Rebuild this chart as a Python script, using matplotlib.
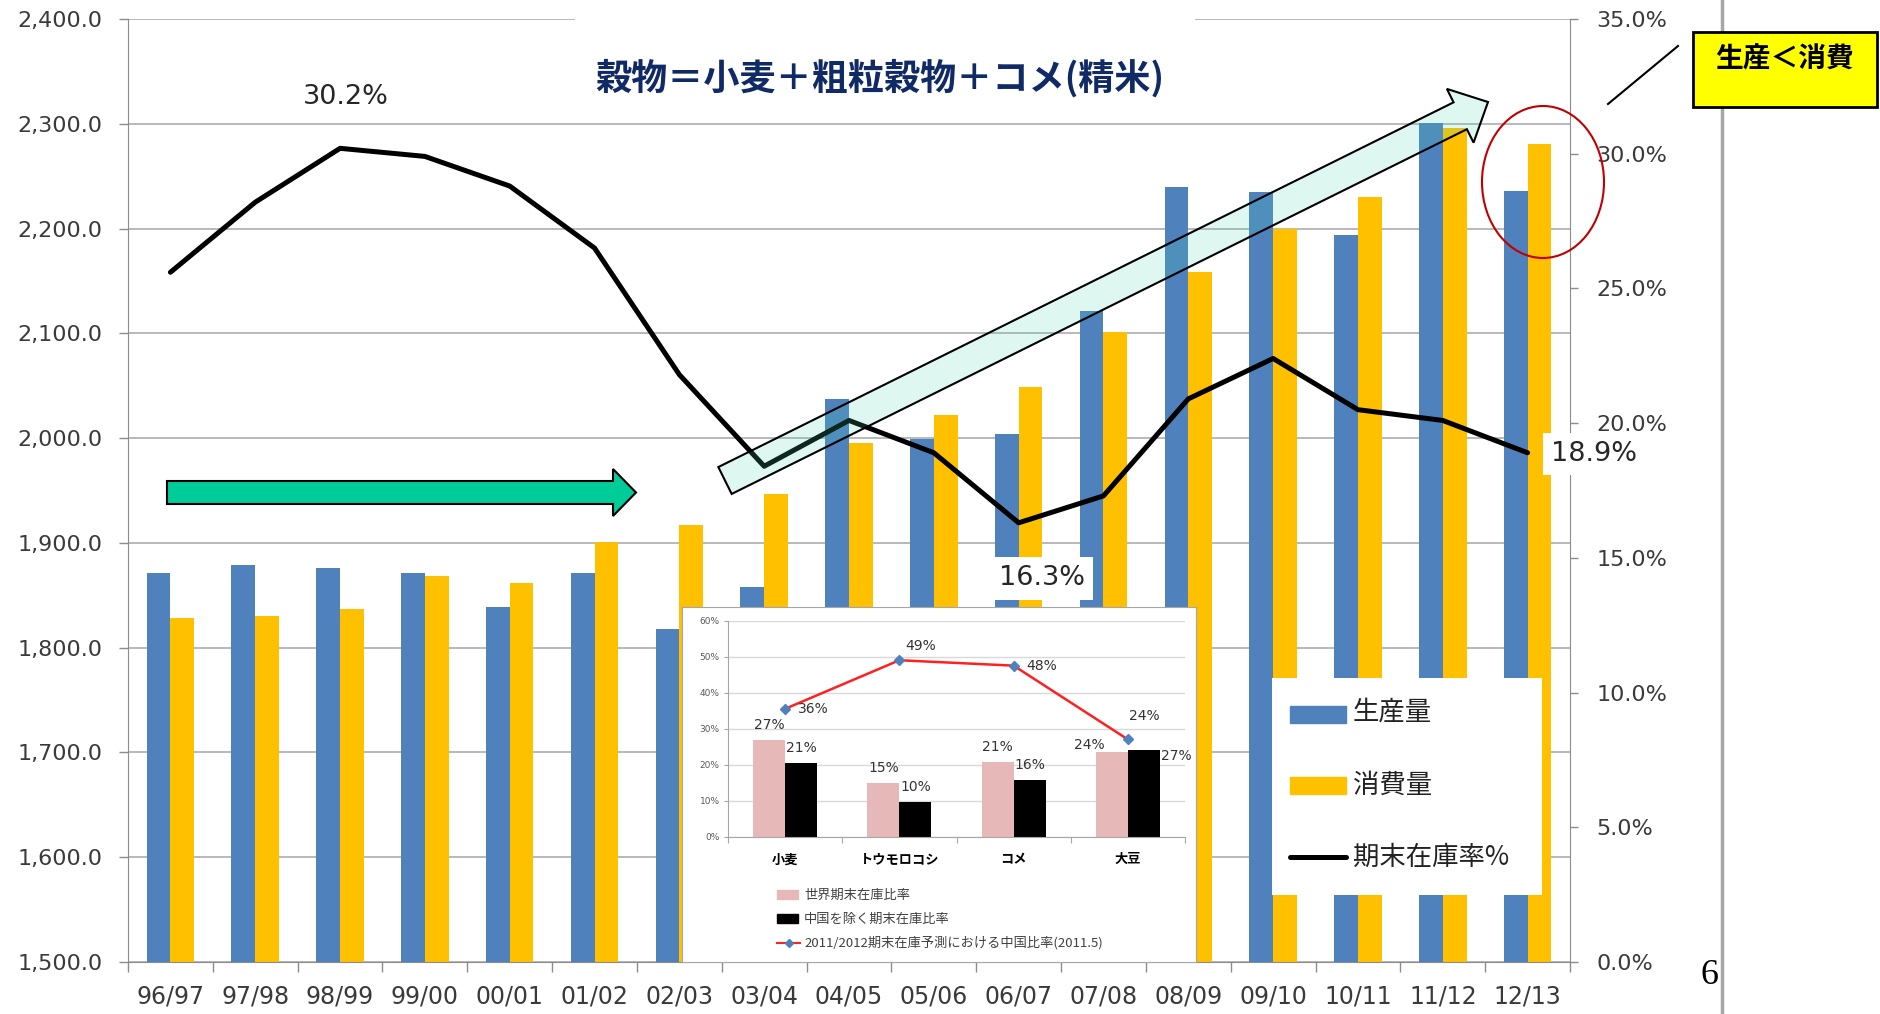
import matplotlib
matplotlib.use('Agg')
import numpy as np
import matplotlib.pyplot as plt
from matplotlib.patches import Rectangle, Polygon, Ellipse
from matplotlib.lines import Line2D
from matplotlib.ticker import FuncFormatter

plt.rcParams['font.family'] = ['DejaVu Sans', 'Noto Sans CJK JP']
JP = ['Noto Sans CJK JP', 'DejaVu Sans']

# 世界の穀物需給（百万トン）と期末在庫率
years = ['96/97', '97/98', '98/99', '99/00', '00/01', '01/02', '02/03', '03/04', '04/05',
         '05/06', '06/07', '07/08', '08/09', '09/10', '10/11', '11/12', '12/13']
production = [1871, 1879, 1876, 1871, 1839, 1871, 1818, 1858, 2037,
              1999, 2004, 2121, 2240, 2235, 2194, 2301, 2236]
consumption = [1828, 1830, 1837, 1868, 1862, 1901, 1917, 1947, 1995,
               2022, 2049, 2101, 2159, 2200, 2230, 2296, 2281]
stock_ratio = [25.6, 28.2, 30.2, 29.9, 28.8, 26.5, 21.8, 18.4, 20.1,
               18.9, 16.3, 17.3, 20.9, 22.4, 20.5, 20.1, 18.9]
series_names = ['生産量', '消費量', '期末在庫率%']

# 期末在庫比率（小さい図）
crops = ['小麦', 'トウモロコシ', 'コメ', '大豆']
world_ratio = [26.9, 15.0, 20.7, 23.6]
excl_china = [20.6, 9.6, 15.8, 24.3]
china_share = [35.6, 49.1, 47.6, 27.1]
inset_names = ['世界期末在庫比率', '中国を除く期末在庫比率',
               '2011/2012期末在庫予測における中国比率(2011.5)']

BLUE = '#4F81BD'
ORANGE = '#FFC000'
GREY = '#8C8C8C'
TXT = '#3A3A3A'

W, H = 1880, 1014
fig = plt.figure(figsize=(W / 100, H / 100), dpi=100)


def fx(x):
    return x / W


def fy(y):
    return 1 - y / H


def box(x0, y0, x1, y1):
    return [fx(x0), fy(y1), fx(x1) - fx(x0), fy(y0) - fy(y1)]


# ---- main chart ----
ax = fig.add_axes(box(128, 19, 1570, 962))
x = np.arange(len(years))
bw = 0.28
ax.bar(x - bw / 2, production, bw, color=BLUE, zorder=2)
ax.bar(x + bw / 2, consumption, bw, color=ORANGE, zorder=2)
ax.set_xlim(-0.5, len(years) - 0.5)
ax.set_ylim(1500, 2400)
ax.set_yticks(np.arange(1500, 2401, 100))
ax.yaxis.set_major_formatter(FuncFormatter(lambda v, p: f'{v:,.1f}'))
ax.grid(axis='y', color='#A6A6A6', lw=1.1)
ax.set_axisbelow(True)

ax.set_xticks(np.arange(len(years) + 1) - 0.5)
ax.set_xticklabels([])
ax.set_xticks(x, minor=True)
ax.set_xticklabels(years, minor=True)
ax.tick_params(axis='x', which='major', length=7, width=1, color=GREY)
ax.tick_params(axis='x', which='minor', length=0, pad=16, labelsize=17, labelcolor=TXT)
ax.tick_params(axis='y', length=6.5, width=1, color=GREY, pad=12, labelsize=16, labelcolor=TXT)
for s in ['top', 'right']:
    ax.spines[s].set_visible(False)
for s in ['left', 'bottom']:
    ax.spines[s].set_color(GREY)

ax2 = ax.twinx()
ax2.set_ylim(0, 35)
ax2.set_yticks(np.arange(0, 35.1, 5))
ax2.yaxis.set_major_formatter(FuncFormatter(lambda v, p: f'{v:.1f}%'))
ax2.tick_params(axis='y', length=5.8, width=1, color=GREY, pad=13, labelsize=16, labelcolor=TXT)
for s in ['top', 'left', 'bottom']:
    ax2.spines[s].set_visible(False)
ax2.spines['right'].set_color(GREY)
ax2.plot(x, stock_ratio, color='black', lw=3.6, solid_joinstyle='round',
         solid_capstyle='round', zorder=3)

# 値ラベル（ピーク・ボトム・最新）
for i, off, boxed in [(2, (4, 37), False), (10, (17, -40), True), (16, (48, -1), True)]:
    kw = dict(boxstyle='square,pad=0.3', fc='white', ec='none') if boxed else None
    ax2.annotate(f'{stock_ratio[i]:.1f}%', xy=(i, stock_ratio[i]), xytext=off,
                 textcoords='offset points', ha='center', va='center',
                 fontsize=19.5, color='#262626', bbox=kw, zorder=5)

# ---- inset: 期末在庫比率 ----
ib = fig.add_axes(box(682, 607, 1196, 962))
ib.set_xlim(0, 514)
ib.set_ylim(355, 0)
ib.set_xticks([])
ib.set_yticks([])
for s in ib.spines.values():
    s.set_color('#A6A6A6')

ia = fig.add_axes(box(728, 621, 1185, 837))
ci = np.arange(len(crops))
ibw = 0.28
ia.bar(ci - ibw / 2, world_ratio, ibw, color='#E6B9B8', zorder=2)
ia.bar(ci + ibw / 2, excl_china, ibw, color='black', zorder=2)
ia.plot(ci, china_share, color='#FF2020', lw=1.8, marker='D', ms=5,
        mfc=BLUE, mec=BLUE, zorder=3)
ia.set_xlim(-0.5, len(crops) - 0.5)
ia.set_ylim(0, 60)
ia.set_yticks(np.arange(0, 61, 10))
ia.yaxis.set_major_formatter(FuncFormatter(lambda v, p: f'{v:.0f}%'))
ia.grid(axis='y', color='#D9D9D9', lw=1)
ia.set_axisbelow(True)
ia.set_xticks(np.arange(len(crops) + 1) - 0.5)
ia.set_xticklabels([])
ia.set_xticks(ci, minor=True)
ia.set_xticklabels(crops, minor=True, family=JP, fontweight='bold', fontsize=9.5)
ia.tick_params(axis='x', which='major', length=4, color='#A6A6A6')
ia.tick_params(axis='x', which='minor', length=0, pad=11)
ia.tick_params(axis='y', length=3, color='#A6A6A6', labelsize=6.5, labelcolor='#595959', pad=3)
for s in ['top', 'right']:
    ia.spines[s].set_visible(False)
for s in ['left', 'bottom']:
    ia.spines[s].set_color('#A6A6A6')

lab = dict(textcoords='offset points', ha='center', va='center', fontsize=10, color='#333333')
world_off = [(0, 11), (0, 11), (0, 11), (-16, 5)]
excl_off = [(0, 11), (0, 11), (0, 11), (0, 24)]
share_off = [(20, 0), (15, 10), (20, 0), (35, -12)]
for i in ci:
    ia.annotate(f'{world_ratio[i]:.0f}%', xy=(i - ibw / 2, world_ratio[i]), xytext=world_off[i], **lab)
    ia.annotate(f'{excl_china[i]:.0f}%', xy=(i + ibw / 2, excl_china[i]), xytext=excl_off[i], **lab)
    ia.annotate(f'{china_share[i]:.0f}%', xy=(i, china_share[i]), xytext=share_off[i], **lab)

ib.add_patch(Rectangle((95, 283), 21, 9, color='#E6B9B8'))
ib.add_patch(Rectangle((95, 307), 21, 9, color='black'))
ib.plot([95, 118], [336, 336], color='#FF2020', lw=1.5)
ib.plot([106.5], [336], marker='D', ms=4, color=BLUE)
for yy, name in zip([288, 312, 336], inset_names):
    ib.text(122, yy, name, family=JP, fontsize=9.5, color='#404040', va='center')

# ---- legend ----
lg = fig.add_axes(box(1272, 678, 1542, 895))
lg.set_xlim(0, 270)
lg.set_ylim(217, 0)
lg.set_xticks([])
lg.set_yticks([])
for s in lg.spines.values():
    s.set_visible(False)
lg.add_patch(Rectangle((18, 28), 56, 17, color=BLUE))
lg.add_patch(Rectangle((18, 99), 56, 17, color=ORANGE))
lg.plot([18, 74], [179, 179], color='black', lw=3.6, solid_capstyle='round')
for yy, name in zip([34, 107, 179], series_names):
    lg.text(81, yy, name, family=JP, fontsize=19, color='#222222', va='center')

# ---- title & callouts ----
fig.add_artist(Rectangle((fx(575), fy(105)), fx(1195) - fx(575), fy(5) - fy(105),
                         transform=fig.transFigure, fc='white', ec='none', zorder=1))
fig.text(fx(880), fy(78), '穀物＝小麦＋粗粒穀物＋コメ(精米)', family=JP, fontweight='bold',
         fontsize=26, color='#102A66', ha='center', va='center', zorder=2)


def arrow_pts(tail, tip, half_shaft, half_head, head_len):
    tail = np.array(tail, float)
    tip = np.array(tip, float)
    u = (tip - tail) / np.linalg.norm(tip - tail)
    n = np.array([-u[1], u[0]])
    base = tip - u * head_len
    pts = [tail + n * half_shaft, base + n * half_shaft, base + n * half_head, tip,
           base - n * half_head, base - n * half_shaft, tail - n * half_shaft]
    return [(fx(p[0]), fy(p[1])) for p in pts]


fig.add_artist(Polygon(arrow_pts((167, 492.5), (636, 492.5), 11.5, 23.5, 23),
                       transform=fig.transFigure, fc='#00CC99', ec='black', lw=1.5, zorder=2))
fig.add_artist(Polygon(arrow_pts((725, 480.5), (1488, 102), 15, 30, 31),
                       transform=fig.transFigure, fc=(83 / 255, 211 / 255, 178 / 255, 0.18),
                       ec='black', lw=1.5, zorder=2))

fig.add_artist(Ellipse((fx(1543), fy(182)), 122 / W, 152 / H, transform=fig.transFigure,
                       fill=False, ec='#C00000', lw=1.5, zorder=2))

fig.add_artist(Line2D([fx(1722), fx(1722)], [0, 1], transform=fig.transFigure,
                      color='#A6A6A6', lw=2.5, zorder=0.5))
fig.add_artist(Rectangle((fx(1693), fy(107)), fx(1877) - fx(1693), fy(32) - fy(107),
                         transform=fig.transFigure, fc='#FFFF00', ec='black', lw=2, zorder=2))
fig.text(fx(1715), fy(60), '生産＜消費', family=JP, fontweight='bold', fontsize=20,
         color='black', ha='left', va='center', zorder=3)
fig.add_artist(Line2D([fx(1608), fx(1678)], [fy(104), fy(46)], transform=fig.transFigure,
                      color='black', lw=1.5, zorder=2))

fig.text(fx(1710), fy(975), '6', family=['Liberation Serif', 'DejaVu Serif'], fontsize=26,
         color='black', ha='center', va='center')

fig.savefig('out.png', dpi=100)
